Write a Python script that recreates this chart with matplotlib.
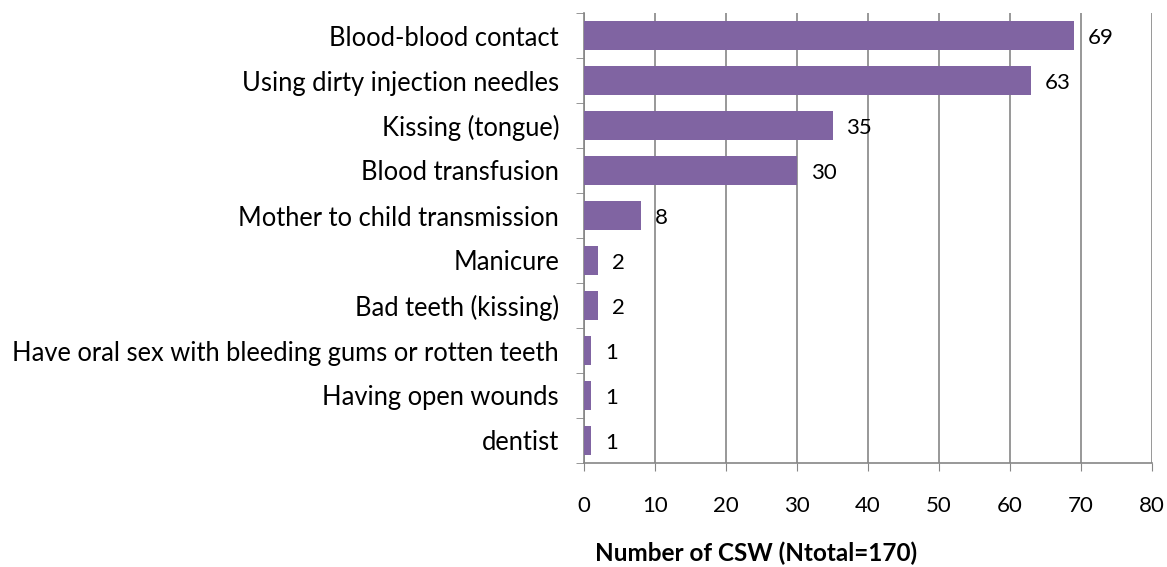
import matplotlib
matplotlib.use('Agg')
import matplotlib.pyplot as plt
import numpy as np

categories = ["Blood-blood contact", "Using dirty injection needles", "Kissing (tongue)",
              "Blood transfusion", "Mother to child transmission", "Manicure",
              "Bad teeth (kissing)", "Have oral sex with bleeding gums or rotten teeth",
              "Having open wounds", "dentist"]
counts = [69, 63, 35, 30, 8, 2, 2, 1, 1, 1]

plt.rcParams['font.family'] = ['Lato', 'DejaVu Sans']
grey = '#868686'

fig = plt.figure(figsize=(11.67, 5.67), dpi=100)
ax = fig.add_axes([584 / 1167, 1 - 463 / 567, 568 / 1167, 450 / 567])

y = np.arange(len(categories))
ax.barh(y, counts, height=0.65, color='#8064A2', zorder=3)
for yi, v in zip(y, counts):
    ax.annotate(str(v), (v, yi), xytext=(10, -2), textcoords='offset points',
                va='center', ha='left', fontsize=16, zorder=4)

ax.set_xlim(0, 80)
ax.set_ylim(len(categories) - 0.5, -0.5)
ax.set_xticks(np.arange(0, 81, 10))
ax.set_yticks(y)
ax.set_yticklabels(categories, fontsize=18.4)
ax.set_yticks(np.arange(-0.5, len(categories), 1), minor=True)
ax.tick_params(axis='y', which='major', length=0, pad=18)
ax.tick_params(axis='y', which='minor', length=6, color=grey, direction='out')
ax.tick_params(axis='x', length=6, color=grey, labelsize=16, pad=18)
ax.grid(axis='x', color=grey, linewidth=1.2, zorder=0)
for s in ['top', 'right']:
    ax.spines[s].set_visible(False)
for s in ['left', 'bottom']:
    ax.spines[s].set_color(grey)
    ax.spines[s].set_linewidth(1.2)
ax.set_xlabel("Number of CSW (Ntotal=170)", fontsize=17.5, fontweight='bold',
              labelpad=18, x=0.303)

fig.savefig('out.png', dpi=100)
